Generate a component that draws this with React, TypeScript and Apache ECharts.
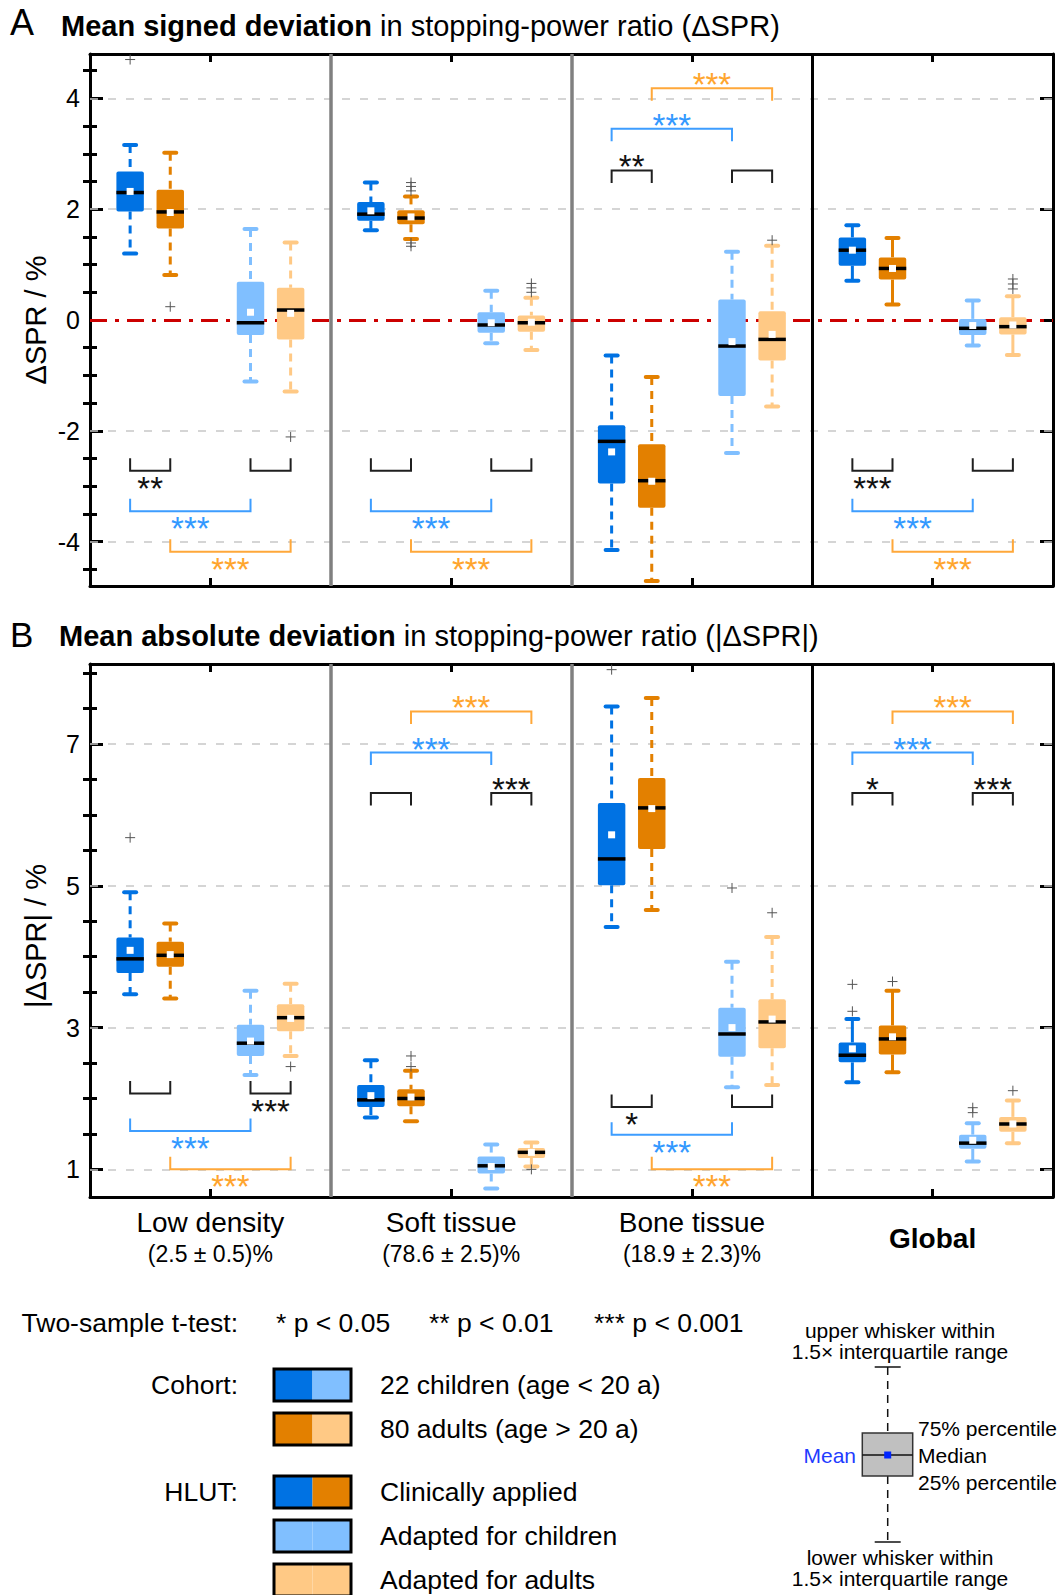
import { useEffect, useRef } from 'react';
import * as echarts from 'echarts';

// ---------------- data ----------------
const categories = ['Low density', 'Soft tissue', 'Bone tissue', 'Global'];
const categoryShares = ['(2.5 ± 0.5)%', '(78.6 ± 2.5)%', '(18.9 ± 2.3)%', ''];
const catCenters = [0.5, 1.5, 2.5, 3.5];

// Box statistics per category: [lower whisker, Q1, median, Q3, upper whisker, mean]
// Panel A: mean signed deviation ΔSPR / %
const signedChildrenClinical = [
  [1.20, 1.96, 2.30, 2.68, 3.16, 2.32],
  [1.62, 1.79, 1.91, 2.13, 2.48, 1.97],
  [-4.15, -2.95, -2.19, -1.90, -0.64, -2.38],
  [0.71, 0.98, 1.26, 1.49, 1.71, 1.26],
];
const signedAdultsClinical = [
  [0.81, 1.65, 1.95, 2.35, 3.02, 1.94],
  [1.46, 1.73, 1.84, 1.98, 2.23, 1.86],
  [-4.71, -3.39, -2.90, -2.24, -1.03, -2.91],
  [0.28, 0.73, 0.93, 1.13, 1.48, 0.93],
];
const signedChildrenAdapted = [
  [-1.11, -0.27, -0.05, 0.69, 1.64, 0.14],
  [-0.42, -0.23, -0.09, 0.14, 0.53, -0.05],
  [-2.40, -1.37, -0.47, 0.37, 1.23, -0.39],
  [-0.46, -0.27, -0.15, 0.02, 0.35, -0.10],
];
const signedAdultsAdapted = [
  [-1.29, -0.35, 0.18, 0.58, 1.40, 0.12],
  [-0.54, -0.21, -0.05, 0.08, 0.40, -0.04],
  [-1.56, -0.73, -0.35, 0.16, 1.34, -0.26],
  [-0.63, -0.26, -0.12, 0.05, 0.43, -0.09],
];
// outliers: [box group, category, value]
const signedOutliers = [
  [0, 0, 4.70], [1, 0, 0.24], [3, 0, -2.11],
  [1, 1, 2.48], [1, 1, 2.41], [1, 1, 2.33], [1, 1, 1.39], [1, 1, 1.33],
  [3, 1, 0.66], [3, 1, 0.58], [3, 1, 0.50],
  [3, 2, 1.44],
  [3, 3, 0.74], [3, 3, 0.65], [3, 3, 0.56],
];
// significance tests: [category, box a, box b, bracket level, side (1 above / -1 below), stars]
const signedTests: any[] = [
  [0, 0, 1, -2.72, -1, '**'], [0, 2, 3, -2.72, -1, ''], [0, 0, 2, -3.45, -1, '***'], [0, 1, 3, -4.18, -1, '***'],
  [1, 0, 1, -2.72, -1, ''], [1, 2, 3, -2.72, -1, ''], [1, 0, 2, -3.45, -1, '***'], [1, 1, 3, -4.18, -1, '***'],
  [2, 0, 1, 2.70, 1, '**'], [2, 2, 3, 2.70, 1, ''], [2, 0, 2, 3.45, 1, '***'], [2, 1, 3, 4.18, 1, '***'],
  [3, 0, 1, -2.72, -1, '***'], [3, 2, 3, -2.72, -1, ''], [3, 0, 2, -3.45, -1, '***'], [3, 1, 3, -4.18, -1, '***'],
];
const signedRange = [-4.8, 4.8];
const signedMajorTicks = [-4, -2, 0, 2, 4];
const signedMinorTicks = [-4.5, -3.5, -3, -2.5, -1.5, -1, -0.5, 0.5, 1, 1.5, 2.5, 3, 3.5, 4.5];
const signedGridLines = [-4, -2, 2, 4];

// Panel B: mean absolute deviation |ΔSPR| / %
const absChildrenClinical = [
  [3.47, 3.77, 3.97, 4.27, 4.91, 4.09],
  [1.73, 1.88, 1.98, 2.19, 2.54, 2.04],
  [4.42, 5.01, 5.38, 6.17, 7.53, 5.72],
  [2.23, 2.51, 2.61, 2.79, 3.12, 2.70],
];
const absAdultsClinical = [
  [3.41, 3.86, 4.02, 4.21, 4.47, 4.03],
  [1.68, 1.89, 2.00, 2.13, 2.39, 2.02],
  [4.66, 5.52, 6.10, 6.52, 7.65, 6.09],
  [2.37, 2.62, 2.84, 3.03, 3.52, 2.87],
];
const absChildrenAdapted = [
  [2.33, 2.60, 2.78, 3.04, 3.52, 2.81],
  [0.73, 0.94, 1.05, 1.18, 1.35, 1.04],
  [2.16, 2.59, 2.91, 3.28, 3.93, 3.00],
  [1.11, 1.29, 1.37, 1.49, 1.65, 1.41],
];
const absAdultsAdapted = [
  [2.60, 2.95, 3.14, 3.33, 3.62, 3.13],
  [1.04, 1.16, 1.24, 1.30, 1.38, 1.24],
  [2.19, 2.71, 3.08, 3.40, 4.28, 3.12],
  [1.37, 1.53, 1.64, 1.74, 1.97, 1.64],
];
const absOutliers = [
  [0, 0, 5.68], [3, 0, 2.45],
  [1, 1, 2.60], [1, 1, 2.45], [3, 1, 1.00],
  [0, 2, 8.05], [2, 2, 4.97], [3, 2, 4.62],
  [0, 3, 3.61], [0, 3, 3.23], [1, 3, 3.65], [2, 3, 1.87], [2, 3, 1.80], [3, 3, 2.11],
];
const absTests: any[] = [
  [0, 0, 1, 2.07, -1, ''], [0, 2, 3, 2.07, -1, '***'], [0, 0, 2, 1.54, -1, '***'], [0, 1, 3, 1.00, -1, '***'],
  [1, 0, 1, 6.31, 1, ''], [1, 2, 3, 6.31, 1, '***'], [1, 0, 2, 6.88, 1, '***'], [1, 1, 3, 7.46, 1, '***'],
  [2, 0, 1, 1.88, -1, '*'], [2, 2, 3, 1.88, -1, ''], [2, 0, 2, 1.49, -1, '***'], [2, 1, 3, 1.00, -1, '***'],
  [3, 0, 1, 6.31, 1, '*'], [3, 2, 3, 6.31, 1, '***'], [3, 0, 2, 6.88, 1, '***'], [3, 1, 3, 7.46, 1, '***'],
];
const absRange = [0.61, 8.13];
const absMajorTicks = [1, 3, 5, 7];
const absMinorTicks = [1.5, 2, 2.5, 3.5, 4, 4.5, 5.5, 6, 6.5, 7.5, 8];
const absGridLines = [1, 3, 5, 7];

// ---------------- styles ----------------
const FF = '"Liberation Sans", Arial, Helvetica, sans-serif';
const BOX_COLORS = ['#0072e3', '#e38000', '#80bfff', '#ffc985'];
const BR_BLACK = '#1f1f1f';
const BR_BLUE = '#3d9dff';
const BR_ORANGE = '#ffa83a';
const boxOffsets = [-1 / 3, -1 / 6, 1 / 6, 1 / 3];

function boxSeries(stats: number[][], g: number, xi: number, yi: number) {
  const color = BOX_COLORS[g];
  return {
    type: 'custom', xAxisIndex: xi, yAxisIndex: yi, z: 5, silent: true,
    data: stats.map((s, cat) => [cat + 0.5 + boxOffsets[g], ...s, cat]),
    renderItem: (params: any, api: any) => {
      const x = api.value(0);
      const y = (i: number) => api.coord([x, api.value(i)])[1];
      const cx = api.coord([x, api.value(3)])[0];
      const catW = api.size([1, 0])[0];
      const bw = catW * 0.114;
      const capW = catW * 0.05;
      const lo = y(1), q1 = y(2), med = y(3), q3 = y(4), hi = y(5), mean = y(6);
      const dashed = api.value(7) < 3;
      const wStyle: any = { stroke: color, lineWidth: 3 };
      if (dashed) wStyle.lineDash = [8, 6];
      const capStyle = { stroke: color, lineWidth: 4, lineCap: 'round' };
      return {
        type: 'group',
        children: [
          { type: 'line', shape: { x1: cx, y1: hi, x2: cx, y2: q3 }, style: wStyle },
          { type: 'line', shape: { x1: cx, y1: q1, x2: cx, y2: lo }, style: wStyle },
          { type: 'line', shape: { x1: cx - capW / 2, y1: hi, x2: cx + capW / 2, y2: hi }, style: capStyle },
          { type: 'line', shape: { x1: cx - capW / 2, y1: lo, x2: cx + capW / 2, y2: lo }, style: capStyle },
          { type: 'rect', shape: { x: cx - bw / 2, y: q3, width: bw, height: q1 - q3, r: 2 }, style: { fill: color } },
          { type: 'line', shape: { x1: cx - bw / 2, y1: med, x2: cx + bw / 2, y2: med }, style: { stroke: '#000', lineWidth: 3.5 } },
          { type: 'rect', shape: { x: cx - 3.5, y: mean - 3.5, width: 7, height: 7 }, style: { fill: '#fff' } },
        ],
      };
    },
  };
}

function outlierSeries(outliers: number[][], xi: number, yi: number) {
  return {
    type: 'custom', xAxisIndex: xi, yAxisIndex: yi, z: 6, silent: true,
    data: outliers.map(([g, cat, v]) => [cat + 0.5 + boxOffsets[g], v]),
    renderItem: (params: any, api: any) => {
      const p = api.coord([api.value(0), api.value(1)]);
      const r = 5;
      const st = { stroke: '#555', lineWidth: 1 };
      return {
        type: 'group',
        children: [
          { type: 'line', shape: { x1: p[0] - r, y1: p[1], x2: p[0] + r, y2: p[1] }, style: st },
          { type: 'line', shape: { x1: p[0], y1: p[1] - r, x2: p[0], y2: p[1] + r }, style: st },
        ],
      };
    },
  };
}

function bracketSeries(tests: any[], xi: number, yi: number) {
  return {
    type: 'custom', xAxisIndex: xi, yAxisIndex: yi, z: 6, silent: true,
    data: tests.map((t) => t.slice(0, 5)),
    renderItem: (params: any, api: any) => {
      const label = tests[params.dataIndex][5];
      const cat = api.value(0), a = api.value(1), b = api.value(2), level = api.value(3), side = api.value(4);
      const pa = api.coord([cat + 0.5 + boxOffsets[a], level]);
      const pb = api.coord([cat + 0.5 + boxOffsets[b], level]);
      const color = a === 0 && b === 2 ? BR_BLUE : a === 1 && b === 3 ? BR_ORANGE : BR_BLACK;
      const starColor = a === 0 && b === 2 ? '#3399ff' : a === 1 && b === 3 ? '#ffa52e' : '#111';
      const leg = side > 0 ? 12.5 : -12.5;
      const starY = pa[1] + (side > 0 ? -10.5 : 10.5);
      const children: any[] = [
        {
          type: 'polyline',
          shape: { points: [[pa[0], pa[1] + leg], [pa[0], pa[1]], [pb[0], pb[1]], [pb[0], pb[1] + leg]] },
          style: { stroke: color, lineWidth: 2, fill: null },
        },
      ];
      if (label) {
        children.push({
          type: 'text', x: (pa[0] + pb[0]) / 2, y: starY + 7,
          style: { text: label, fill: starColor, fontSize: 33, fontFamily: FF, align: 'center', verticalAlign: 'middle' },
        });
      }
      return { type: 'group', children };
    },
  };
}

function markLineSeries(xi: number, yi: number, z: number, data: any[], lineStyle: any) {
  return {
    type: 'line', xAxisIndex: xi, yAxisIndex: yi, data: [], z, silent: true, symbol: 'none',
    markLine: {
      silent: true, symbol: ['none', 'none'], label: { show: false }, animation: false,
      lineStyle, data,
    },
  };
}

const frameLine = { show: true, onZero: false, lineStyle: { color: '#000', width: 3 } };
const tickLine = { color: '#000', width: 3 };

function xAxes(gridIndex: number, withLabels: boolean) {
  return ['bottom', 'top'].map((position) => ({
    type: 'value', gridIndex, position, min: 0, max: 4,
    axisLine: frameLine,
    axisTick: { show: true, inside: true, length: 8, lineStyle: tickLine, customValues: catCenters },
    axisLabel:
      withLabels && position === 'bottom'
        ? {
            show: true, customValues: catCenters, margin: 9, color: '#000',
            formatter: (v: number) => {
              const i = Math.round(v - 0.5);
              return i === 3 ? '{g|Global}' : `{c|${categories[i]}}\n{s|${categoryShares[i]}}`;
            },
            rich: {
              c: { fontSize: 28, lineHeight: 32, fontFamily: FF, color: '#000' },
              s: { fontSize: 23, lineHeight: 32, fontFamily: FF, color: '#000' },
              g: { fontSize: 28, lineHeight: 64, fontWeight: 'bold', fontFamily: FF, color: '#000' },
            },
          }
        : { show: false },
    splitLine: { show: false },
  }));
}

function yAxes(gridIndex: number, range: number[], majors: number[], minors: number[]) {
  const base = { type: 'value', gridIndex, min: range[0], max: range[1], splitLine: { show: false } };
  return [
    {
      ...base, position: 'left', axisLine: frameLine,
      axisTick: { show: true, inside: true, length: 13, lineStyle: tickLine, customValues: majors },
      axisLabel: { show: true, customValues: majors, fontSize: 25, fontFamily: FF, color: '#000', margin: 10 },
    },
    {
      ...base, position: 'left', axisLine: { show: false },
      axisTick: { show: true, inside: true, length: 7, lineStyle: tickLine, customValues: minors },
      axisLabel: { show: false },
    },
    {
      ...base, position: 'right', axisLine: frameLine,
      axisTick: { show: true, inside: true, length: 13, lineStyle: tickLine, customValues: majors },
      axisLabel: { show: false },
    },
    {
      ...base, position: 'right', axisLine: { show: false },
      axisTick: { show: true, inside: true, length: 7, lineStyle: tickLine, customValues: minors },
      axisLabel: { show: false },
    },
  ];
}

function panelSeries(
  groups: number[][][], outliers: number[][], tests: any[], gridLines: number[], xi: number, yi: number, zeroLine: boolean,
) {
  const s: any[] = [
    markLineSeries(xi, yi, 1, gridLines.map((v) => ({ yAxis: v })), { color: '#c8c8c8', width: 1.5, type: [8, 10] }),
    markLineSeries(xi, yi, 3, [
      { xAxis: 1, lineStyle: { color: '#808080', width: 3.5, type: 'solid' } },
      { xAxis: 2, lineStyle: { color: '#808080', width: 3.5, type: 'solid' } },
      { xAxis: 3, lineStyle: { color: '#000', width: 3, type: 'solid' } },
    ], { type: 'solid' }),
  ];
  if (zeroLine) {
    s.push(markLineSeries(xi, yi, 2, [{ yAxis: 0 }], { color: '#cc0000', width: 3, type: [17, 8, 4, 8] }));
  }
  groups.forEach((g, i) => s.push(boxSeries(g, i, xi, yi)));
  s.push(outlierSeries(outliers, xi, yi));
  s.push(bracketSeries(tests, xi, yi));
  return s;
}

function txt(x: number, y: number, text: string, size: number, extra: any = {}, rotation = 0) {
  return {
    type: 'text', x, y, rotation, silent: true,
    style: { text, fontSize: size, fontFamily: FF, fill: '#000', align: 'left', verticalAlign: 'middle', ...extra },
  };
}

function swatch(y: number, left: string, right: string) {
  const x = 274, w = 77, h = 32;
  return [
    { type: 'rect', shape: { x, y, width: w / 2, height: h }, style: { fill: left } },
    { type: 'rect', shape: { x: x + w / 2, y, width: w / 2, height: h }, style: { fill: right } },
    { type: 'rect', shape: { x, y, width: w, height: h }, style: { fill: null, stroke: '#000', lineWidth: 3 } },
  ];
}

function legendElements() {
  const els: any[] = [];
  const L = 26.5;
  els.push(txt(238, 1323, 'Two-sample t-test:', L, { align: 'right' }));
  els.push(txt(276, 1323, '* p < 0.05', L));
  els.push(txt(429, 1323, '** p < 0.01', L));
  els.push(txt(594, 1323, '*** p < 0.001', L));
  els.push(txt(238, 1385, 'Cohort:', L, { align: 'right' }));
  els.push(txt(238, 1492, 'HLUT:', L, { align: 'right' }));
  els.push(...swatch(1369, BOX_COLORS[0], BOX_COLORS[2]));
  els.push(...swatch(1413, BOX_COLORS[1], BOX_COLORS[3]));
  els.push(...swatch(1476, BOX_COLORS[0], BOX_COLORS[1]));
  els.push(...swatch(1520, BOX_COLORS[2], BOX_COLORS[2]));
  els.push(...swatch(1564, BOX_COLORS[3], BOX_COLORS[3]));
  els.push(txt(380, 1385, '22 children (age < 20 a)', L));
  els.push(txt(380, 1429, '80 adults (age > 20 a)', L));
  els.push(txt(380, 1492, 'Clinically applied', L));
  els.push(txt(380, 1536, 'Adapted for children', L));
  els.push(txt(380, 1580, 'Adapted for adults', L));

  // box-plot key
  const cx = 887.7;
  const k = { stroke: '#111', lineWidth: 1.5 };
  els.push({ type: 'line', shape: { x1: cx, y1: 1367, x2: cx, y2: 1433 }, style: { ...k, lineDash: [8, 6] } });
  els.push({ type: 'line', shape: { x1: cx, y1: 1476, x2: cx, y2: 1542 }, style: { ...k, lineDash: [8, 6] } });
  els.push({ type: 'line', shape: { x1: cx - 13, y1: 1367, x2: cx + 13, y2: 1367 }, style: k });
  els.push({ type: 'line', shape: { x1: cx - 13, y1: 1542, x2: cx + 13, y2: 1542 }, style: k });
  els.push({ type: 'rect', shape: { x: 862.3, y: 1433, width: 50.4, height: 43 }, style: { fill: '#c0c0c0', stroke: '#333', lineWidth: 1.5 } });
  els.push({ type: 'line', shape: { x1: 862.3, y1: 1455, x2: 912.7, y2: 1455 }, style: k });
  els.push({ type: 'rect', shape: { x: cx - 3.5, y: 1451.5, width: 7, height: 7 }, style: { fill: '#0026ff' } });
  els.push(txt(900, 1330, 'upper whisker within', 21, { align: 'center' }));
  els.push(txt(900, 1351, '1.5× interquartile range', 21, { align: 'center' }));
  els.push(txt(918, 1428, '75% percentile', 21));
  els.push(txt(918, 1455, 'Median', 21));
  els.push(txt(918, 1482, '25% percentile', 21));
  els.push(txt(856, 1455, 'Mean', 21, { align: 'right', fill: '#1f3cff' }));
  els.push(txt(900, 1557, 'lower whisker within', 21, { align: 'center' }));
  els.push(txt(900, 1578, '1.5× interquartile range', 21, { align: 'center' }));
  return els;
}

function titleElements() {
  const rich = (size: number) => ({
    b: { fontWeight: 'bold', fontSize: size, fontFamily: FF, fill: '#000' },
    n: { fontSize: size, fontFamily: FF, fill: '#000' },
  });
  return [
    txt(10, 22, 'A', 36),
    {
      type: 'text', x: 61, y: 25.5, silent: true,
      style: { text: '{b|Mean signed deviation}{n| in stopping-power ratio (ΔSPR)}', rich: rich(29), fontSize: 29, fontFamily: FF, align: 'left', verticalAlign: 'middle' },
    },
    txt(10, 634, 'B', 35),
    {
      type: 'text', x: 59, y: 635.5, silent: true,
      style: { text: '{b|Mean absolute deviation}{n| in stopping-power ratio (|ΔSPR|)}', rich: rich(29), fontSize: 29, fontFamily: FF, align: 'left', verticalAlign: 'middle' },
    },
    txt(36, 320, 'ΔSPR / %', 29, { align: 'center' }, Math.PI / 2),
    txt(36, 936, '|ΔSPR| / %', 29, { align: 'center' }, Math.PI / 2),
  ];
}

export default function App() {
  const ref = useRef<HTMLDivElement>(null);
  useEffect(() => {
    document.body.style.margin = '0';
    if (!ref.current) return;
    const chart = echarts.init(ref.current, null, { renderer: 'svg' });
    const option: any = {
      animation: false,
      textStyle: { fontFamily: FF },
      grid: [
        { left: 90, top: 54, width: 963, height: 532, outerBoundsMode: 'none' },
        { left: 90, top: 664, width: 963, height: 533, outerBoundsMode: 'none' },
      ],
      xAxis: [...xAxes(0, false), ...xAxes(1, true)],
      yAxis: [
        ...yAxes(0, signedRange, signedMajorTicks, signedMinorTicks),
        ...yAxes(1, absRange, absMajorTicks, absMinorTicks),
      ],
      series: [
        ...panelSeries(
          [signedChildrenClinical, signedAdultsClinical, signedChildrenAdapted, signedAdultsAdapted],
          signedOutliers, signedTests, signedGridLines, 0, 0, true,
        ),
        ...panelSeries(
          [absChildrenClinical, absAdultsClinical, absChildrenAdapted, absAdultsAdapted],
          absOutliers, absTests, absGridLines, 2, 4, false,
        ),
      ],
      graphic: { elements: [...titleElements(), ...legendElements()] },
    };
    chart.setOption(option);
    return () => chart.dispose();
  }, []);
  return <div ref={ref} style={{ width: 1058, height: 1595 }} />;
}
